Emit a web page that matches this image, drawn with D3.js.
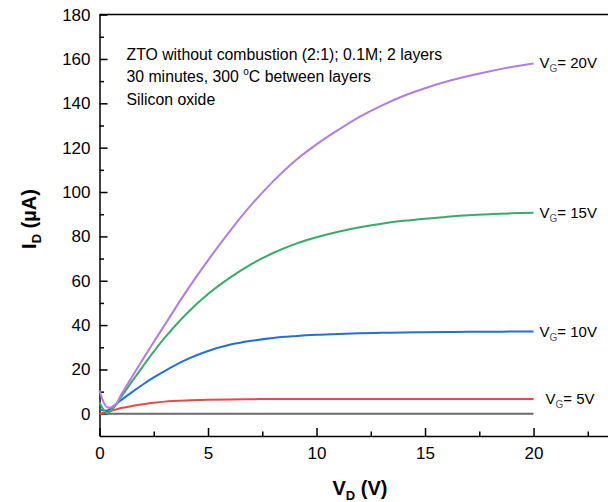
<!DOCTYPE html>
<html>
<head>
<meta charset="utf-8">
<script src="https://cdn.jsdelivr.net/npm/d3@7"></script>
<style>
  body { margin: 0; background: #fff; }
  svg { display: block; font-family: Arial, "Liberation Sans", sans-serif; }
  .axis path, .axis line { stroke: #000; stroke-width: 1.5; }
  .axis text { font-size: 17px; fill: #000; }
</style>
</head>
<body>
<svg id="chart" width="608" height="502"></svg>
<script>
// drain voltage sample points (V)
const vd = [0, 0.35, 0.7, 1, 1.5, 2, 2.5, 3, 4, 5, 6, 7, 8, 9, 10, 11, 12, 13, 14, 15, 16, 17, 18, 19, 20];

// drain current (uA) for each gate voltage
const id20 = [10.5, 3, 3.7, 8.7, 16.7, 24.6, 32.4, 40, 55.2, 69.2, 82.3, 94.3, 104.8, 114, 121.5, 128, 134, 139, 143.3, 146.8, 149.8, 152.3, 154.5, 156.4, 158];
const id15 = [5.2, 0.3, 3.3, 7.6, 14.6, 21.4, 28, 34.2, 45, 54, 61.3, 67.5, 72.5, 76.5, 79.6, 82.1, 84.1, 85.7, 87, 88, 88.8, 89.5, 90, 90.4, 90.7];
const id10 = [2, 1.5, 4, 6.2, 9.8, 13.2, 16.4, 19.3, 24.4, 28.3, 31.1, 32.9, 34.2, 35, 35.6, 36, 36.3, 36.5, 36.7, 36.8, 36.9, 37, 37, 37.1, 37.1];
const id5 = [0, 0.8, 1.8, 2.6, 3.5, 4.3, 5, 5.5, 6, 6.3, 6.5, 6.6, 6.7, 6.7, 6.7, 6.7, 6.7, 6.7, 6.7, 6.7, 6.7, 6.7, 6.7, 6.7, 6.7];
const id0 = vd.map(() => 0);

const gateLabels = ['20V', '15V', '10V', '5V', null];
const colors = ['#b27ce3', '#3aaa6b', '#1f6fe3', '#f04545', '#6b6b6b'];

const xMajor = [0, 5, 10, 15, 20];
const xMinor = [2.5, 7.5, 12.5, 17.5, 22.5];
const yMajor = [0, 20, 40, 60, 80, 100, 120, 140, 160, 180];
const yMinor = [10, 30, 50, 70, 90, 110, 130, 150, 170];

const notes = [
    'ZTO without combustion (2:1); 0.1M; 2 layers',
    '30 minutes, 300 |o|C between layers',
    'Silicon oxide'
];

const svg = d3.select('#chart');

const x = d3.scaleLinear().domain([0, 23.5]).range([99.5, 609.5]);
const y = d3.scaleLinear().domain([-10, 180]).range([436, 14.6]);

// minor ticks first
svg.append('g')
    .attr('class', 'axis')
    .attr('transform', `translate(0,${y(-10)})`)
    .call(d3.axisBottom(x).tickValues(xMinor).tickSize(-4.5).tickSizeOuter(0).tickFormat(''))
    .select('.domain').remove();
svg.append('g')
    .attr('class', 'axis')
    .attr('transform', `translate(${x(0)},0)`)
    .call(d3.axisLeft(y).tickValues(yMinor).tickSize(-4.5).tickSizeOuter(0).tickFormat(''))
    .select('.domain').remove();

// major ticks + labels
svg.append('g')
    .attr('class', 'axis')
    .attr('transform', `translate(0,${y(-10)})`)
    .call(d3.axisBottom(x).tickValues(xMajor).tickSize(-8).tickSizeOuter(0).tickPadding(11));
svg.append('g')
    .attr('class', 'axis')
    .attr('transform', `translate(${x(0)},0)`)
    .call(d3.axisLeft(y).tickValues(yMajor).tickSize(-8).tickSizeOuter(0).tickPadding(9));

// top frame line
svg.append('line')
    .attr('x1', x(0)).attr('x2', 608)
    .attr('y1', y(180)).attr('y2', y(180))
    .attr('stroke', '#000').attr('stroke-width', 1.5);

const series = [id20, id15, id10, id5, id0];

const line = d3.line()
    .x((d, i) => x(vd[i]))
    .y(d => y(d))
    .curve(d3.curveCatmullRom.alpha(0.5));

// draw from bottom curve up
series.slice().reverse().forEach((s, k) => {
    const i = series.length - 1 - k;
    svg.append('path')
        .attr('d', line(s))
        .attr('fill', 'none')
        .attr('stroke', colors[i])
        .attr('stroke-width', 2);
});

// curve labels
series.forEach((s, i) => {
    if (!gateLabels[i]) return;
    const t = svg.append('text')
        .attr('x', x(20) + (i === 3 ? 12 : 6))
        .attr('y', y(s[s.length - 1]) + 5)
        .attr('font-size', 15)
        .attr('fill', '#000');
    t.append('tspan').text('V');
    t.append('tspan').text('G').attr('font-size', 10).attr('dy', 4).attr('fill', '#555');
    t.append('tspan').text('= ' + gateLabels[i]).attr('dy', -4);
});

// annotation text
notes.forEach((n, i) => {
    const t = svg.append('text')
        .attr('x', 126.5)
        .attr('y', 59.5 + i * 22.5)
        .attr('font-size', 15.8)
        .attr('fill', '#000');
    const parts = n.split('|');
    parts.forEach((p, j) => {
        if (j === 1) {
            t.append('tspan').text(p).attr('font-size', 10).attr('dy', -7);
        } else if (j === 2) {
            t.append('tspan').text(p).attr('dy', 7);
        } else {
            t.append('tspan').text(p);
        }
    });
});

// axis titles
const xt = svg.append('text')
    .attr('x', 360).attr('y', 495)
    .attr('text-anchor', 'middle')
    .attr('font-size', 20).attr('font-weight', 'bold');
xt.append('tspan').text('V');
xt.append('tspan').text('D').attr('font-size', 13).attr('dy', 5);
xt.append('tspan').text(' (V)').attr('dy', -5);

const yt = svg.append('text')
    .attr('transform', 'translate(36,219) rotate(-90)')
    .attr('text-anchor', 'middle')
    .attr('font-size', 20).attr('font-weight', 'bold');
yt.append('tspan').text('I');
yt.append('tspan').text('D').attr('font-size', 13).attr('dy', 5);
yt.append('tspan').text(' (µA)').attr('dy', -5);
</script>
</body>
</html>
